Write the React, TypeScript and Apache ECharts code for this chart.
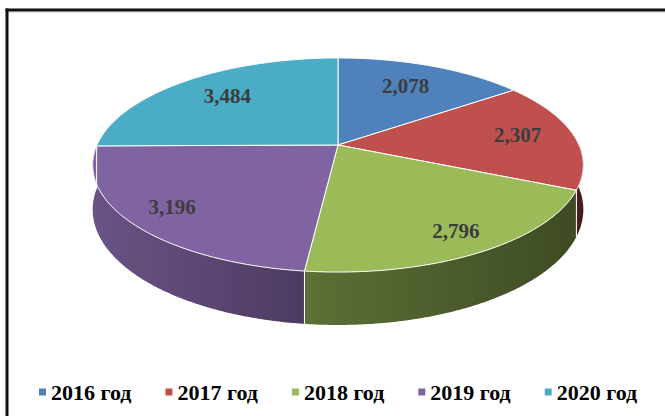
import React, { useEffect, useRef } from "react";
import * as echarts from "echarts";

const categories = ["2016 год", "2017 год", "2018 год", "2019 год", "2020 год"];
const values = [2078, 2307, 2796, 3196, 3484];
const colors = ["#4F81BD", "#C0504D", "#9BBB59", "#8064A2", "#4BACC6"];

// projection of the tilted, perspective pie
const CX = 338;
const CY = 145;
const RX = 241;
const RY = 103.3;
const K = 0.187;
const DEPTH = 43;
const FONT = '"Liberation Serif", "Times New Roman", serif';

function project(deg: number, r: number, h: number): [number, number] {
  const t = (deg * Math.PI) / 180;
  const x = r * Math.sin(t);
  const z = -r * Math.cos(t);
  const w = 1 - K * z;
  return [CX + (RX * x) / w, CY + (RY * z + h) / w];
}

function shade(hex: string, f: number): string {
  const n = parseInt(hex.slice(1), 16);
  const r = Math.round(((n >> 16) & 255) * f);
  const g = Math.round(((n >> 8) & 255) * f);
  const b = Math.round((n & 255) * f);
  return `rgb(${r},${g},${b})`;
}

function sideFactor(deg: number): number {
  return 0.4 + (deg - 114) * 0.00276;
}

function arc(a0: number, a1: number, h: number): [number, number][] {
  const pts: [number, number][] = [];
  const n = Math.max(2, Math.ceil(Math.abs(a1 - a0) / 0.5));
  for (let i = 0; i <= n; i++) pts.push(project(a0 + ((a1 - a0) * i) / n, 1, h));
  return pts;
}

export default function App() {
  const ref = useRef<HTMLDivElement>(null);
  useEffect(() => {
    if (!ref.current) return;
    const chart = echarts.init(ref.current, undefined, { renderer: "svg" });
    const total = values.reduce((a, b) => a + b, 0);
    const starts: number[] = [];
    let acc = 0;
    values.forEach((v) => {
      starts.push((acc / total) * 360);
      acc += v;
    });

    const series = categories.map((name, idx) => ({
      type: "custom",
      name,
      coordinateSystem: "none",
      silent: true,
      itemStyle: { color: colors[idx] },
      data: [values[idx]],
      renderItem: (params: any, api: any) => {
        const v = api.value(0);
        const a0 = starts[idx];
        const a1 = a0 + (v / total) * 360;
        const color = colors[idx];
        const children: any[] = [];
        // visible side wall
        const s0 = Math.max(a0, 90);
        const s1 = Math.min(a1, 270);
        if (s1 > s0) {
          const top = arc(s0, s1, 0);
          const bottom = arc(s1, s0, DEPTH);
          children.push({
            type: "polygon",
            shape: { points: top.concat(bottom) },
            style: {
              fill: new echarts.graphic.LinearGradient(0, 0, 1, 0, [
                { offset: 0, color: shade(color, sideFactor(s1)) },
                { offset: 1, color: shade(color, sideFactor(s0)) },
              ]),
              stroke: "none",
            },
          });
          if (a0 > 90 && a0 < 270) {
            const p = project(a0, 1, 0);
            const q = project(a0, 1, DEPTH);
            children.push({
              type: "line",
              shape: { x1: p[0], y1: p[1], x2: q[0], y2: q[1] },
              style: { stroke: "#ffffff", lineWidth: 1 },
            });
          }
        }
        // top face
        const topPts = [project(0, 0, 0)].concat(arc(a0, a1, 0));
        children.push({
          type: "polygon",
          shape: { points: topPts },
          style: { fill: color, stroke: "#ffffff", lineWidth: 1, lineJoin: "round" },
        });
        // label (best-fit: nearer slices get labels further out)
        const mid = (a0 + a1) / 2;
        const zMid = -Math.cos((mid * Math.PI) / 180);
        const lp = project(mid, 0.77 + 0.09 * zMid, 0);
        children.push({
          type: "text",
          style: {
            text: v.toLocaleString("en-US"),
            x: lp[0],
            y: lp[1] - 2,
            align: "center",
            verticalAlign: "middle",
            fill: "#3d3d3d",
            font: `bold 21px ${FONT}`,
          },
        });
        return { type: "group", children };
      },
    }));

    chart.setOption({
      animation: false,
      backgroundColor: "#ffffff",
      color: colors,
      legend: {
        data: categories,
        left: 34,
        top: 376,
        itemWidth: 7,
        itemHeight: 7,
        itemGap: 34,
        icon: "rect",
        selectedMode: false,
        textStyle: {
          fontFamily: FONT,
          fontWeight: "bold",
          fontSize: 22,
          color: "#000000",
        },
      },
      graphic: [
        {
          type: "line",
          shape: { x1: 8, y1: 12.5, x2: 665, y2: 12.5 },
          style: { stroke: "#e2e2e2", lineWidth: 1 },
        },
        {
          type: "line",
          shape: { x1: 5.5, y1: 10, x2: 665, y2: 10 },
          style: { stroke: "#111111", lineWidth: 3 },
        },
        {
          type: "line",
          shape: { x1: 7, y1: 8.5, x2: 7, y2: 416 },
          style: { stroke: "#111111", lineWidth: 3 },
        },
      ],
      series,
    });
    return () => chart.dispose();
  }, []);
  return (
    <div
      ref={ref}
      style={{ position: "fixed", left: 0, top: 0, width: 665, height: 416 }}
    />
  );
}
